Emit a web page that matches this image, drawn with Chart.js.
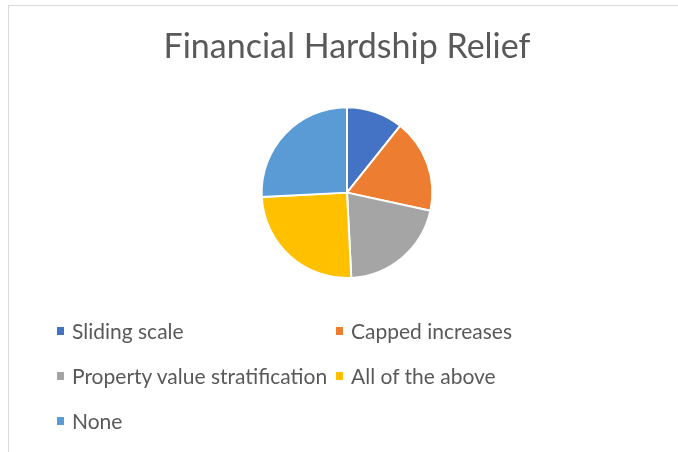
<!DOCTYPE html>
<html>
<head>
<meta charset="utf-8">
<script src="https://cdn.jsdelivr.net/npm/chart.js@4/dist/chart.umd.min.js"></script>
<style>
  html, body { margin: 0; padding: 0; background: #fff; }
  #wrap { position: relative; width: 678px; height: 452px; overflow: hidden; }
  #frame {
    position: absolute; left: 8px; top: 5px; width: 700px; height: 480px;
    border-top: 1px solid #d9d9d9; border-left: 1px solid #d9d9d9;
  }
  #pie { position: absolute; left: 0; top: 0; }
  .item {
    position: absolute; font-family: Lato, "Open Sans", sans-serif; font-size: 21px;
    color: #595959; white-space: nowrap; line-height: 24px;
  }
  .box { position: absolute; width: 7px; height: 8px; }
</style>
</head>
<body>
<div id="wrap">
  <div id="frame"></div>
  <canvas id="pie" width="678" height="452"></canvas>
  <div id="legend"></div>
</div>
<script>
const title  = "Financial Hardship Relief";
const labels = ["Sliding scale", "Capped increases", "Property value stratification", "All of the above", "None"];
const shares = [10.7, 17.7, 20.8, 25.0, 25.8];
const colors = ["#4472C4", "#ED7D31", "#A5A5A5", "#FFC000", "#5B9BD5"];

const canvas = document.querySelector("#pie");

new Chart(canvas.getContext("2d"), {
    type: "pie",
    data: {
        labels: labels,
        datasets: [{
            data: shares,
            backgroundColor: colors,
            borderColor: "#ffffff",
            borderWidth: 2
        }]
    },
    options: {
        responsive: false,
        animation: false,
        layout: { padding: { top: 10, left: 16, right: 0, bottom: 173 } },
        plugins: {
            legend: { display: false },
            tooltip: { enabled: false },
            title: {
                display: true,
                text: title,
                color: "#595959",
                font: { family: "Lato", size: 34, weight: "normal", lineHeight: 1.125 },
                padding: { top: 18, bottom: 40 }
            }
        }
    }
});

// legend laid out in two columns like the office chart
const legend = document.querySelector("#legend");
const colX = [57, 336];
const rowY = [327, 372, 417];
labels.forEach((lbl, i) => {
    const x = colX[i % 2], y = rowY[Math.floor(i / 2)];
    const box = document.createElement("div");
    box.className = "box";
    box.style.left = x + "px";
    box.style.top = y + "px";
    box.style.background = colors[i];
    legend.appendChild(box);
    const txt = document.createElement("div");
    txt.className = "item";
    txt.textContent = lbl;
    txt.style.left = (x + 15) + "px";
    txt.style.top = (y - 8) + "px";
    legend.appendChild(txt);
});
</script>
</body>
</html>
